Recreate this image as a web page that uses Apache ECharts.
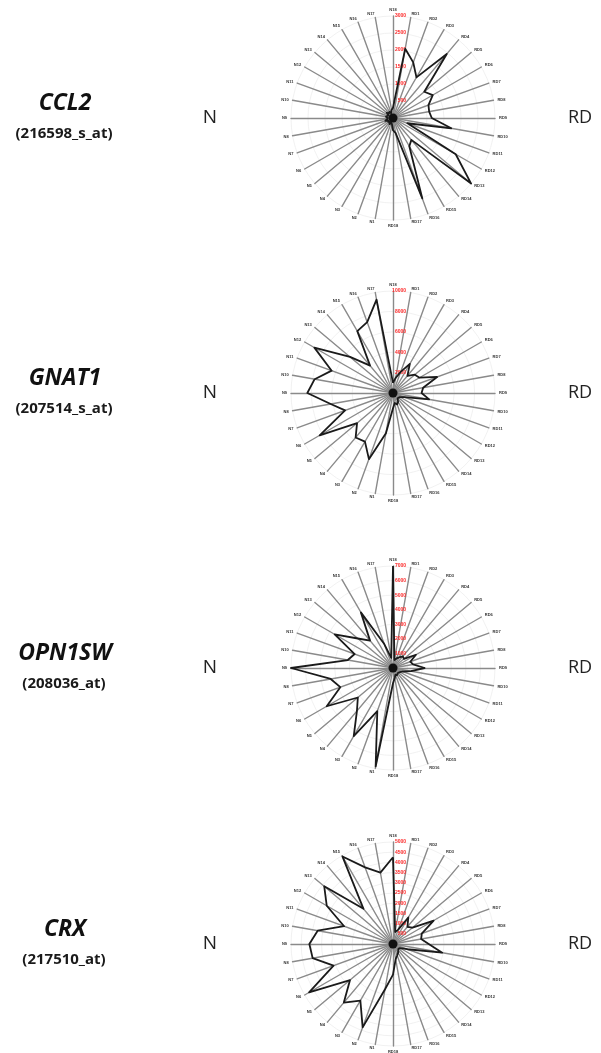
<!DOCTYPE html>
<html><head><meta charset="utf-8">
<script src="https://cdn.jsdelivr.net/npm/echarts@6/dist/echarts.min.js"></script>
<style>html,body{margin:0;padding:0;background:#fff}#c{width:601px;height:1053px}</style>
</head><body><div id="c"></div>
<script>
// spoke labels, clockwise from the top
const spokeLabels = ['N18','RD1','RD2','RD3','RD4','RD5','RD6','RD7','RD8','RD9','RD10','RD11','RD12','RD13','RD14','RD15','RD16','RD17','RD18',
  'N1','N2','N3','N4','N5','N6','N7','N8','N9','N10','N11','N12','N13','N14','N15','N16','N17'];
const genes = ['CCL2','GNAT1','OPN1SW','CRX'];
const probes = ['(216598_s_at)','(207514_s_at)','(208036_at)','(217510_at)'];
const scaleMax = [3000, 10000, 7000, 5000];
const scaleSplits = [6, 5, 7, 10];
// values, clockwise from the top spoke
const ccl2 = [300,2070,1740,1380,2460,1200,1350,1110,1080,1140,1740,450,2130,3000,840,960,2520,450,360,
  180,150,210,150,180,150,240,180,150,210,180,150,240,180,210,150,240];
const gnat1 = [1000,1500,2200,3300,2200,2800,3000,4600,3000,2800,3600,1200,800,700,700,1000,1200,1000,1500,
  4000,6900,5500,5700,4600,8300,5000,6200,8400,7800,6400,8900,5500,3500,7000,7400,9300];
const opn1sw = [7000,560,700,840,1050,980,1820,1260,1400,2170,1260,700,560,490,490,560,490,700,1050,
  6860,3150,5390,3850,3150,5250,3850,4340,7000,3150,2800,4620,3150,2450,4410,1750,700];
const crx = [4250,600,750,1500,1100,1250,2300,1500,1400,1750,2450,750,400,350,400,500,600,750,1500,
  2250,4350,3200,3750,2750,4750,3100,4000,4100,3750,2550,3750,4400,2250,4950,4000,3550];
const seriesValues = [ccl2, gnat1, opn1sw, crx];

const centersY = [118, 393, 668, 944];
const cx = 393, R = 102;
const n = spokeLabels.length;
// ECharts radar runs counter-clockwise: map to clockwise order
const order = [];
for (let i = 0; i < n; i++) order.push((n - i) % n);

const chart = echarts.init(document.getElementById('c'), null, {renderer: 'canvas'});
const radars = [], series = [], graphics = [];
for (let k = 0; k < 4; k++) {
  radars.push({
    center: [cx, centersY[k]], radius: R, startAngle: 90, shape: 'circle',
    splitNumber: scaleSplits[k],
    indicator: order.map((j, i) => {
      const o = {name: spokeLabels[j], min: 0, max: scaleMax[k]};
      if (i === 0) o.axisLabel = {show: true, color: '#ff2a2a', fontSize: 5, fontWeight: 'bold',
        fontFamily: 'Liberation Sans', margin: -13, formatter: v => v === 0 ? '' : String(v)};
      return o;
    }),
    axisName: {color: '#333', fontSize: 4, fontWeight: 'bold', fontFamily: 'Liberation Sans'},
    nameGap: 4,
    splitLine: {lineStyle: {color: '#eeeeee', width: 0.8}},
    splitArea: {show: false},
    axisLine: {lineStyle: {color: '#8a8a8a', width: 1.4}},
    axisTick: {show: false},
    axisLabel: {show: false}
  });
  series.push({
    type: 'radar', radarIndex: k, symbol: 'none', silent: true,
    lineStyle: {color: '#1a1a1a', width: 1.8},
    data: [{value: order.map(j => seriesValues[k][j])}]
  });
  const y = centersY[k];
  graphics.push({type: 'circle', shape: {cx: cx, cy: y, r: 4.5}, style: {fill: '#111'}, z: 100});
  graphics.push({type: 'text', x: 65, y: y - 15, style: {text: genes[k], font: 'italic bold 23px "Open Sans"', fill: '#111', textAlign: 'center', textVerticalAlign: 'middle'}});
  graphics.push({type: 'text', x: 64, y: y + 16, style: {text: probes[k], font: 'bold 15px "Open Sans"', fill: '#1a1a1a', textAlign: 'center', textVerticalAlign: 'middle'}});
  graphics.push({type: 'text', x: 210, y: y, style: {text: 'N', font: '19px "Open Sans"', fill: '#222', textAlign: 'center', textVerticalAlign: 'middle'}});
  graphics.push({type: 'text', x: 580, y: y, style: {text: 'RD', font: '18px "Open Sans"', fill: '#222', textAlign: 'center', textVerticalAlign: 'middle'}});
}
chart.setOption({animation: false, radar: radars, series: series, graphic: graphics});
</script></body></html>
